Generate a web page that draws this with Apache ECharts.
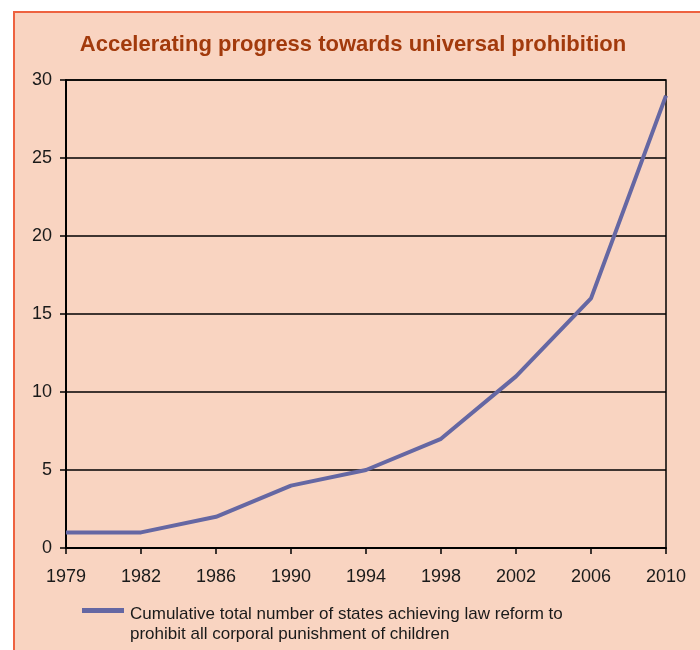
<!DOCTYPE html>
<html>
<head>
<meta charset="utf-8">
<script src="https://cdn.jsdelivr.net/npm/echarts@6/dist/echarts.min.js"></script>
<style>
html, body { margin: 0; padding: 0; background: #ffffff; }
#frame { position: absolute; left: 13px; top: 11px; width: 687px; height: 639px;
  background: #f9d4c1; border-top: 2.5px solid #ee6240; border-left: 2.5px solid #ee6240; box-sizing: border-box; }
#chart { position: absolute; left: 0; top: 0; width: 700px; height: 650px; }
</style>
</head>
<body>
<div id="frame"></div>
<div id="chart"></div>
<script>
const titleText = 'Accelerating progress towards universal prohibition';
const years = ['1979', '1982', '1986', '1990', '1994', '1998', '2002', '2006', '2010'];
const statesCumulative = [1, 1, 2, 4, 5, 7, 11, 16, 29];
const yTicks = [0, 5, 10, 15, 20, 25, 30];
const seriesName = 'Cumulative total number of states achieving law reform to\nprohibit all corporal punishment of children';

const chart = echarts.init(document.getElementById('chart'), null, { renderer: 'canvas' });
chart.setOption({
  backgroundColor: 'transparent',
  animation: false,
  title: {
    text: titleText,
    left: 353,
    textAlign: 'center',
    top: 34,
    padding: 0,
    textStyle: { fontFamily: 'Liberation Sans, Arial, sans-serif', fontSize: 22, fontWeight: 'bold', color: '#a23a0c' }
  },
  legend: {
    left: 82,
    top: 605,
    padding: 0,
    icon: 'path://M0,0L0,0M0,3L42,3L42,8L0,8ZM0,39L0,39',
    itemWidth: 42,
    itemHeight: 39,
    itemStyle: { color: '#6567a3', borderWidth: 0 },
    textStyle: { fontFamily: 'Liberation Sans, Arial, sans-serif', fontSize: 17, lineHeight: 19.5, color: '#1a1a1a', padding: [0, 0, 0, 1] },
    data: [seriesName]
  },
  grid: {
    left: 66, right: 34, top: 80, bottom: 102,
    show: true, borderColor: '#000', borderWidth: 1.5, backgroundColor: 'transparent',
    containLabel: false
  },
  xAxis: {
    type: 'category',
    data: years,
    boundaryGap: false,
    axisLine: { show: true, lineStyle: { color: '#000', width: 2 } },
    axisTick: { show: true, length: 6, lineStyle: { color: '#000', width: 1.5 } },
    axisLabel: { margin: 20, fontFamily: 'Liberation Sans, Arial, sans-serif', fontSize: 18, color: '#1a1a1a' },
    splitLine: { show: false }
  },
  yAxis: {
    type: 'value',
    min: yTicks[0],
    max: yTicks[yTicks.length - 1],
    interval: yTicks[1] - yTicks[0],
    axisLine: { show: true, lineStyle: { color: '#000', width: 2 } },
    axisTick: { show: true, length: 6, lineStyle: { color: '#000', width: 1.5 } },
    axisLabel: { margin: 14, fontFamily: 'Liberation Sans, Arial, sans-serif', fontSize: 18, color: '#1a1a1a' },
    splitLine: { show: true, lineStyle: { color: '#000', width: 1.5 } }
  },
  series: [{
    name: seriesName,
    type: 'line',
    data: statesCumulative,
    symbol: 'none',
    smooth: false,
    lineStyle: { color: '#6567a3', width: 4, join: 'round' },
    itemStyle: { color: '#6567a3' }
  }]
});
</script>
</body>
</html>
